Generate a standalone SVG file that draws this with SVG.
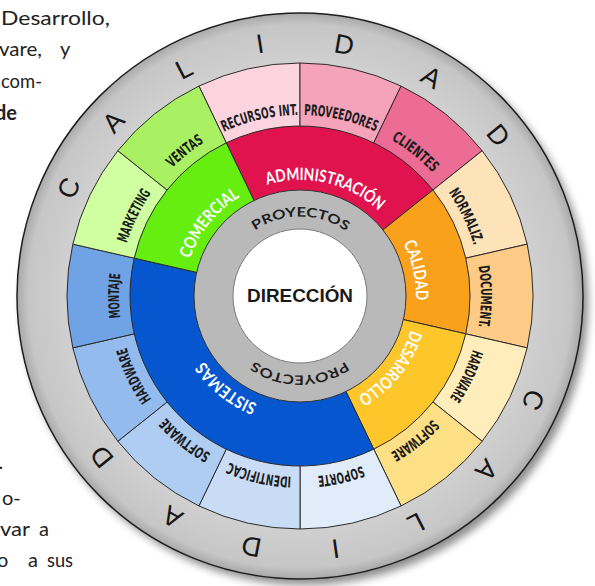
<svg xmlns="http://www.w3.org/2000/svg" width="595" height="586" viewBox="0 0 595 586">
<defs>
<filter id="shadow" x="-10%" y="-10%" width="125%" height="125%"><feGaussianBlur stdDeviation="4"/></filter>
<radialGradient id="ringG" cx="300" cy="296" r="283" gradientUnits="userSpaceOnUse"><stop offset="0.82" stop-color="#d0d0d0"/><stop offset="0.96" stop-color="#c6c6c6"/><stop offset="1" stop-color="#a9a9a9"/></radialGradient>
<path id="tpO" d="M481 296A181 181 0 1 1 119 296A181 181 0 1 1 481 296A181 181 0 1 1 119 296A181 181 0 1 1 481 296"/>
<path id="tpM" d="M416 296A116 116 0 1 1 184 296A116 116 0 1 1 416 296A116 116 0 1 1 184 296A116 116 0 1 1 416 296"/>
<path id="tpP" d="M379.5 296A79.5 79.5 0 1 1 220.5 296A79.5 79.5 0 1 1 379.5 296A79.5 79.5 0 1 1 220.5 296A79.5 79.5 0 1 1 379.5 296"/>
</defs>
<style>
.seg{stroke:#2a2a2a;stroke-width:1;stroke-linejoin:round}
.ol{font-family:"DejaVu Sans Condensed","DejaVu Sans",sans-serif;font-stretch:condensed;font-size:15px;font-weight:bold;fill:#1c1c1c;text-anchor:middle}
.ml{font-family:Lato,"Open Sans",sans-serif;font-weight:bold;font-size:17px;fill:#fff;text-anchor:middle}
.pl{font-family:Lato,"Open Sans",sans-serif;font-weight:bold;font-size:13px;fill:#1e1e1e;text-anchor:middle}
.cal{font-family:"Liberation Sans",sans-serif;font-size:27px;fill:#161616;text-anchor:middle}
.para{font-family:Lato,"Liberation Sans",sans-serif;font-size:20px;fill:#222}
</style>
<rect width="595" height="586" fill="#fff"/>

<g id="paragraph" class="para">
<text x="1" y="25" textLength="109" lengthAdjust="spacingAndGlyphs">Desarrollo,</text>
<text x="-1" y="56" textLength="43" lengthAdjust="spacingAndGlyphs">vare,</text>
<text x="60" y="56">y</text>
<text x="1" y="88" textLength="41" lengthAdjust="spacingAndGlyphs">com-</text>
<text x="-5" y="120" font-weight="bold">de</text>
<text x="-1.5" y="469">.</text>
<text x="2" y="505">o-</text>
<text x="0" y="536" textLength="30" lengthAdjust="spacingAndGlyphs">var</text>
<text x="39" y="536">a</text>
<text x="-3" y="567">o</text>
<text x="28" y="567">a</text>
<text x="47" y="567" textLength="26" lengthAdjust="spacingAndGlyphs">sus</text>
</g>

<g id="outer-ring">
<circle cx="305" cy="302" r="283" fill="#000" opacity="0.45" filter="url(#shadow)"/>
<circle cx="300" cy="296" r="283" fill="url(#ringG)" stroke="#1e1e1e" stroke-width="1.5"/>
<g class="cal">
<text transform="translate(300 296) rotate(295) translate(0 -246)">C</text>
<text transform="translate(300 296) rotate(313) translate(0 -246)">A</text>
<text transform="translate(300 296) rotate(333) translate(0 -246)">L</text>
<text transform="translate(300 296) rotate(351) translate(0 -246)">I</text>
<text transform="translate(300 296) rotate(10) translate(0 -246)">D</text>
<text transform="translate(300 296) rotate(31) translate(0 -246)">A</text>
<text transform="translate(300 296) rotate(51) translate(0 -246)">D</text>
<text transform="translate(300 296) rotate(114) translate(0 -246)">C</text>
<text transform="translate(300 296) rotate(133) translate(0 -246)">A</text>
<text transform="translate(300 296) rotate(153) translate(0 -246)">L</text>
<text transform="translate(300 296) rotate(172) translate(0 -246)">I</text>
<text transform="translate(300 296) rotate(191) translate(0 -246)">D</text>
<text transform="translate(300 296) rotate(210) translate(0 -246)">A</text>
<text transform="translate(300 296) rotate(231) translate(0 -246)">D</text>
</g>
</g>

<g id="recursos"><path class="seg" fill="#fbd4e0" d="M300 296L198.91 86.07A233 233 0 0 1 300 63Z"/><text class="ol"><textPath href="#tpO" startOffset="812.3" textLength="77" lengthAdjust="spacingAndGlyphs">RECURSOS INT.</textPath></text></g>
<g id="proveedores"><path class="seg" fill="#f4a3ba" d="M300 296L300 63A233 233 0 0 1 401.09 86.07Z"/><text class="ol"><textPath href="#tpO" startOffset="893.6" textLength="74" lengthAdjust="spacingAndGlyphs">PROVEEDORES</textPath></text></g>
<g id="clientes"><path class="seg" fill="#ec6c95" d="M300 296L401.09 86.07A233 233 0 0 1 482.17 150.73Z"/><text class="ol"><textPath href="#tpO" startOffset="974.8" textLength="53" lengthAdjust="spacingAndGlyphs">CLIENTES</textPath></text></g>
<g id="normaliz"><path class="seg" fill="#fee3b8" d="M300 296L482.17 150.73A233 233 0 0 1 527.16 244.15Z"/><text class="ol"><textPath href="#tpO" startOffset="1056" textLength="59" lengthAdjust="spacingAndGlyphs">NORMALIZ.</textPath></text></g>
<g id="document"><path class="seg" fill="#fdcb85" d="M300 296L527.16 244.15A233 233 0 0 1 527.16 347.85Z"/><text class="ol"><textPath href="#tpO" startOffset="1137.3" textLength="61" lengthAdjust="spacingAndGlyphs">DOCUMENT.</textPath></text></g>
<g id="hardware-des"><path class="seg" fill="#ffedbb" d="M300 296L527.16 347.85A233 233 0 0 1 482.17 441.27Z"/><text class="ol"><textPath href="#tpO" startOffset="81.2" textLength="54" lengthAdjust="spacingAndGlyphs">HARDWARE</textPath></text></g>
<g id="software-des"><path class="seg" fill="#fddf86" d="M300 296L482.17 441.27A233 233 0 0 1 401.09 505.93Z"/><text class="ol"><textPath href="#tpO" startOffset="162.5" textLength="54" lengthAdjust="spacingAndGlyphs">SOFTWARE</textPath></text></g>
<g id="soporte"><path class="seg" fill="#e0ecfa" d="M300 296L401.09 505.93A233 233 0 0 1 300 529Z"/><text class="ol"><textPath href="#tpO" startOffset="243.7" textLength="46" lengthAdjust="spacingAndGlyphs">SOPORTE</textPath></text></g>
<g id="identificac"><path class="seg" fill="#c9dcf6" d="M300 296L300 529A233 233 0 0 1 198.91 505.93Z"/><text class="ol"><textPath href="#tpO" startOffset="324.9" textLength="64" lengthAdjust="spacingAndGlyphs">IDENTIFICAC</textPath></text></g>
<g id="software-sis"><path class="seg" fill="#afcdf2" d="M300 296L198.91 505.93A233 233 0 0 1 117.83 441.27Z"/><text class="ol"><textPath href="#tpO" startOffset="406.2" textLength="58" lengthAdjust="spacingAndGlyphs">SOFTWARE</textPath></text></g>
<g id="hardware-sis"><path class="seg" fill="#94bbee" d="M300 296L117.83 441.27A233 233 0 0 1 72.84 347.85Z"/><text class="ol"><textPath href="#tpO" startOffset="487.4" textLength="58" lengthAdjust="spacingAndGlyphs">HARDWARE</textPath></text></g>
<g id="montaje"><path class="seg" fill="#70a3e6" d="M300 296L72.84 347.85A233 233 0 0 1 72.84 244.15Z"/><text class="ol"><textPath href="#tpO" startOffset="568.6" textLength="44" lengthAdjust="spacingAndGlyphs">MONTAJE</textPath></text></g>
<g id="marketing"><path class="seg" fill="#cfffa0" d="M300 296L72.84 244.15A233 233 0 0 1 117.83 150.73Z"/><text class="ol"><textPath href="#tpO" startOffset="649.9" textLength="56" lengthAdjust="spacingAndGlyphs">MARKETING</textPath></text></g>
<g id="ventas"><path class="seg" fill="#a9f163" d="M300 296L117.83 150.73A233 233 0 0 1 198.91 86.07Z"/><text class="ol"><textPath href="#tpO" startOffset="731.1" textLength="41" lengthAdjust="spacingAndGlyphs">VENTAS</textPath></text></g>

<g id="administracion"><path class="seg" fill="#e0134f" d="M300 296L226.24 142.84A170 170 0 0 1 432.91 190.01Z"/></g>
<g id="calidad"><path class="seg" fill="#f9a11b" d="M300 296L432.91 190.01A170 170 0 0 1 465.74 333.83Z"/></g>
<g id="desarrollo"><path class="seg" fill="#fdc72c" d="M300 296L465.74 333.83A170 170 0 0 1 373.76 449.16Z"/></g>
<g id="sistemas"><path class="seg" fill="#0556cf" d="M300 296L373.76 449.16A170 170 0 0 1 134.26 258.17Z"/></g>
<g id="comercial"><path class="seg" fill="#66ee11" d="M300 296L134.26 258.17A170 170 0 0 1 226.24 142.84Z"/></g>

<g id="proyectos">
<circle cx="300" cy="296" r="106" fill="#b9b9b9" stroke="#333" stroke-width="1"/>
<text class="pl"><textPath href="#tpP" startOffset="374.6" textLength="97" lengthAdjust="spacingAndGlyphs">PROYECTOS</textPath></text>
<text class="pl"><textPath href="#tpP" startOffset="124.9" textLength="97" lengthAdjust="spacingAndGlyphs">PROYECTOS</textPath></text>
</g>

<g id="middle-labels">
<text class="ml"><textPath href="#tpM" startOffset="572.7" textLength="120" lengthAdjust="spacingAndGlyphs">ADMINISTRACIÓN</textPath></text>
<text class="ml"><textPath href="#tpM" startOffset="702.8" textLength="59" lengthAdjust="spacingAndGlyphs">CALIDAD</textPath></text>
<text class="ml"><textPath href="#tpM" startOffset="78.1" textLength="87" lengthAdjust="spacingAndGlyphs">DESARROLLO</textPath></text>
<text class="ml"><textPath href="#tpM" startOffset="260.3" textLength="69" lengthAdjust="spacingAndGlyphs">SISTEMAS</textPath></text>
<text class="ml"><textPath href="#tpM" startOffset="442.5" textLength="81" lengthAdjust="spacingAndGlyphs">COMERCIAL</textPath></text>
</g>

<g id="direccion">
<circle cx="300" cy="296" r="67" fill="#fff" stroke="#7a7a7a" stroke-width="1"/>
<text x="300" y="302" text-anchor="middle" font-family="'Liberation Sans',Arial,sans-serif" font-weight="bold" font-size="19" fill="#1a1a1a" textLength="106" lengthAdjust="spacingAndGlyphs">DIRECCIÓN</text>
</g>
<g id="connectors"/>
</svg>
